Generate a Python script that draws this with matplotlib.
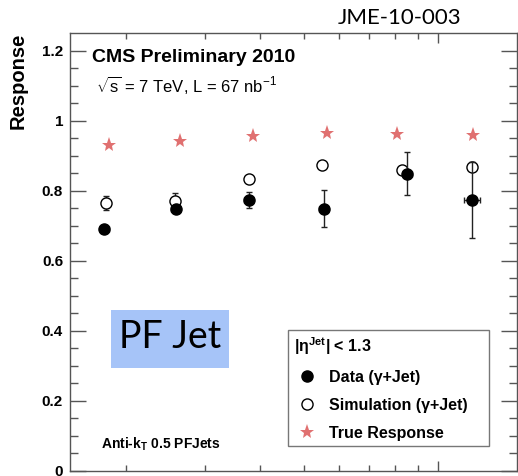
import matplotlib
matplotlib.use("Agg")
import matplotlib.pyplot as plt
from matplotlib.lines import Line2D
from matplotlib.patches import Rectangle

# jet pT bins (GeV)
pt_data = [17.9, 25.9, 37.7, 55.4, 85.3, 119.0]
resp_data = [0.692, 0.748, 0.773, 0.749, 0.849, 0.773]
err_data = [0.008, 0.010, 0.022, 0.052, 0.062, 0.109]
xerr_data = [0.4, 0.6, 0.9, 1.3, 2.0, 5.0]

pt_sim = [18.1, 25.8, 37.7, 55.0, 83.0, 119.0]
resp_sim = [0.765, 0.770, 0.833, 0.873, 0.859, 0.869]
err_sim = [0.020, 0.023, 0.010, 0.008, 0.010, 0.012]

pt_true = [18.3, 26.5, 38.6, 56.4, 80.9, 119.5]
resp_true = [0.929, 0.941, 0.957, 0.965, 0.962, 0.958]

star_color = "#e07070"
axis_gray = "#555555"

plt.rcParams["font.family"] = ["Liberation Sans", "DejaVu Sans"]
plt.rcParams["mathtext.fontset"] = "custom"
plt.rcParams["mathtext.rm"] = "Liberation Sans"
plt.rcParams["mathtext.it"] = "Liberation Sans:italic"
plt.rcParams["mathtext.bf"] = "Liberation Sans:bold"

fig = plt.figure(figsize=(5.18, 4.76), dpi=100)
ax = fig.add_axes([70 / 518, 1 - 471 / 476, 447 / 518, 438 / 476])

ax.errorbar(pt_sim, resp_sim, yerr=err_sim, fmt="o", mfc="white", mec="black",
            mew=1.0, ms=8, ecolor="#222222", elinewidth=1.0, capsize=2.2, zorder=3)
ax.errorbar(pt_data, resp_data, yerr=err_data, xerr=xerr_data, fmt="o", color="black",
            ms=8, ecolor="#222222", elinewidth=1.0, capsize=2.2, zorder=4)
ax.plot(pt_true, resp_true, "*", color=star_color, ms=11, mew=0, zorder=5)

ax.set_xscale("log")
ax.set_xlim(15, 150)
ax.set_ylim(0, 1.25)
ax.set_yticks([0, 0.2, 0.4, 0.6, 0.8, 1.0, 1.2])
ax.set_yticklabels(["0", "0.2", "0.4", "0.6", "0.8", "1", "1.2"])
ax.set_yticks([i * 0.05 for i in range(25)], minor=True)
ax.tick_params(axis="x", which="both", labelbottom=False, direction="in",
               top=True, colors=axis_gray, width=1)
ax.tick_params(axis="x", which="major", length=7.2)
ax.tick_params(axis="x", which="minor", length=4.3)
ax.tick_params(axis="y", which="both", direction="in", right=True,
               colors=axis_gray, width=1, labelcolor="black", labelsize=11, pad=5)
ax.tick_params(axis="y", which="major", length=11.5)
ax.tick_params(axis="y", which="minor", length=5.8)
for lab in ax.get_yticklabels():
    lab.set_fontweight("bold")
for sp in ax.spines.values():
    sp.set_color(axis_gray)
    sp.set_linewidth(1.0)

fig.text(18 / 518, 1 - 33 / 476, "Response", rotation=90, ha="center", va="top",
         fontsize=14.5, fontweight="bold")
fig.text(400 / 518, 1 - 18 / 476, "JME-10-003", ha="center", va="center",
         fontsize=16, family="Lato")

ax.text(0.049, 0.945, "CMS Preliminary 2010", transform=ax.transAxes,
        fontsize=14, fontweight="bold", va="center")
ax.text(0.058, 0.881, r"$\sqrt{\mathrm{s}}$ = 7 TeV, L = 67 nb$^{-1}$",
        transform=ax.transAxes, fontsize=12, va="center")
ax.text(0.069, 0.062, r"Anti-k$_{\mathbf{T}}$ 0.5 PFJets", transform=ax.transAxes,
        fontsize=10, fontweight="bold", va="center")

ax.add_patch(Rectangle((0.0917, 0.235), 0.264, 0.1324, transform=ax.transAxes,
                       facecolor="#a6c4f8", edgecolor="none", zorder=2))
ax.text(0.2237, 0.305, "PF Jet", transform=ax.transAxes, fontsize=27,
        family="Lato", ha="center", va="center", zorder=3)

handles = [
    Line2D([], [], ls="none", marker="o", color="black", ms=8),
    Line2D([], [], ls="none", marker="o", mfc="white", mec="black", ms=8),
    Line2D([], [], ls="none", marker="*", color=star_color, ms=11, mew=0),
]
labels = ["Data (γ+Jet)", "Simulation (γ+Jet)", "True Response"]
leg = ax.legend(handles, labels, loc="upper left",
                bbox_to_anchor=(0.488, 0.0525, 0.449, 0.2695), mode="expand",
                borderaxespad=0, fancybox=False, edgecolor=axis_gray,
                prop={"weight": "bold", "size": 11.5}, labelspacing=0.8,
                handlelength=1.6, handletextpad=0.6, borderpad=0.35,
                title=r"|η$^{\mathbf{Jet}}$| < 1.3", alignment="left",
                title_fontproperties={"weight": "bold", "size": 11.5})
leg.get_frame().set_linewidth(1.0)

fig.savefig("out.png", dpi=100)
